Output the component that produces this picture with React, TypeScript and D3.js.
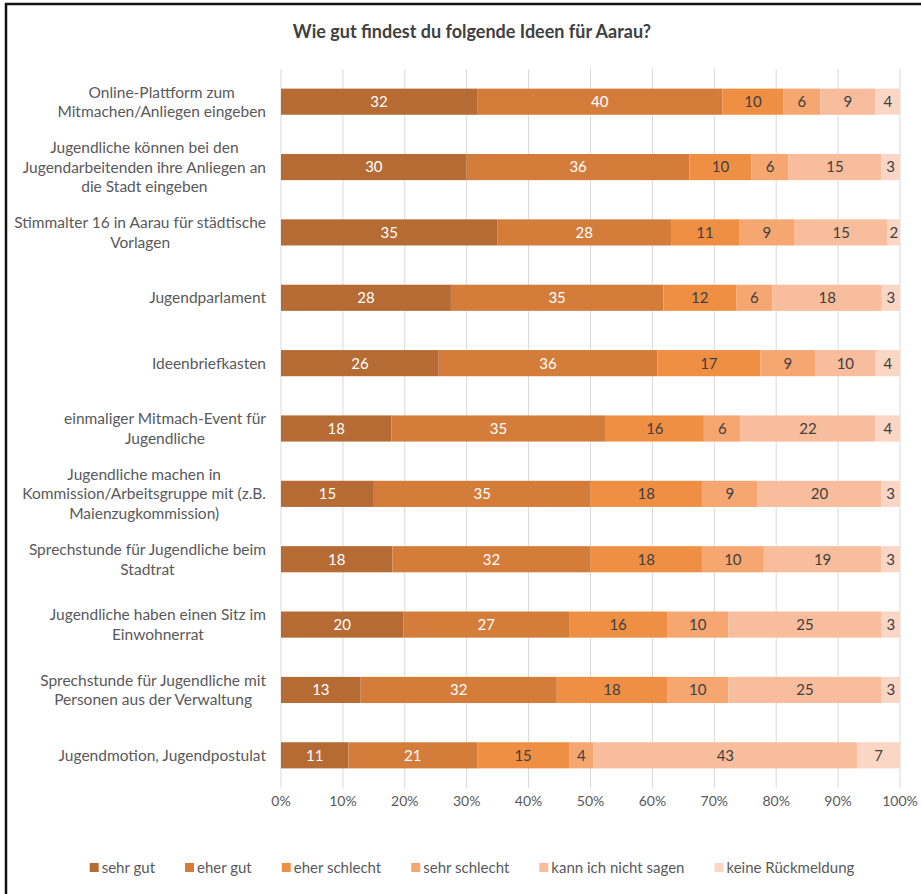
import React, { useRef, useEffect } from "react";
import * as d3 from "d3";

const categories: string[][] = [
  ["Online-Plattform zum", "Mitmachen/Anliegen eingeben"],
  ["Jugendliche können bei den", "Jugendarbeitenden ihre Anliegen an", "die Stadt eingeben"],
  ["Stimmalter 16 in Aarau für städtische", "Vorlagen"],
  ["Jugendparlament"],
  ["Ideenbriefkasten "],
  ["einmaliger Mitmach-Event für", "Jugendliche"],
  ["Jugendliche machen in", "Kommission/Arbeitsgruppe mit (z.B.", "Maienzugkommission)"],
  ["Sprechstunde für Jugendliche beim", "Stadtrat"],
  ["Jugendliche haben einen Sitz im", "Einwohnerrat"],
  ["Sprechstunde für Jugendliche mit", "Personen aus der Verwaltung"],
  ["Jugendmotion, Jugendpostulat"],
];

const seriesNames = [
  "sehr gut",
  "eher gut",
  "eher schlecht",
  "sehr schlecht",
  "kann ich nicht sagen",
  "keine Rückmeldung",
];

const sehrGut = [32, 30, 35, 28, 26, 18, 15, 18, 20, 13, 11];
const eherGut = [40, 36, 28, 35, 36, 35, 35, 32, 27, 32, 21];
const eherSchlecht = [10, 10, 11, 12, 17, 16, 18, 18, 16, 18, 15];
const sehrSchlecht = [6, 6, 9, 6, 9, 6, 9, 10, 10, 10, 4];
const kannNicht = [9, 15, 15, 18, 10, 22, 20, 19, 25, 25, 43];
const keineRueckmeldung = [4, 3, 2, 3, 4, 4, 3, 3, 3, 3, 7];

const tickValues = [0, 10, 20, 30, 40, 50, 60, 70, 80, 90, 100];

const colors = ["#b56b33", "#d47d3b", "#ee8f44", "#f5a671", "#f8bd9d", "#fbd6c5"];

const FONT = "Lato, 'Open Sans', sans-serif";

export default function App() {
  const svgRef = useRef<SVGSVGElement>(null);

  useEffect(() => {
    const w = 921;
    const h = 894;
    const svg = d3.select(svgRef.current);
    svg.selectAll("*").remove();
    svg
      .attr("width", w)
      .attr("height", h)
      .style("background", "#fff")
      .style("position", "absolute")
      .style("left", 0)
      .style("top", 0)
      .style("font-family", FONT);

    // frame
    svg.append("rect")
      .attr("x", 6)
      .attr("y", 4)
      .attr("width", 1000)
      .attr("height", 1000)
      .attr("fill", "none")
      .attr("stroke", "#111")
      .attr("stroke-width", 2.5);

    // title
    svg.append("text")
      .attr("x", 472)
      .attr("y", 38)
      .attr("text-anchor", "middle")
      .attr("font-size", 18)
      .attr("font-weight", "bold")
      .attr("fill", "#404040")
      .text("Wie gut findest du folgende Ideen für Aarau?");

    // data
    const series = [sehrGut, eherGut, eherSchlecht, sehrSchlecht, kannNicht, keineRueckmeldung];
    const rows = categories.map((c, i) => {
      const r: any = { idx: i };
      seriesNames.forEach((s, j) => (r[s] = series[j][i]));
      return r;
    });
    const stacked = d3.stack().keys(seriesNames).offset(d3.stackOffsetExpand)(rows);

    // scales
    const xScale = d3.scaleLinear().domain([0, 1]).range([281, 900]);
    const yScale = d3
      .scaleBand<number>()
      .domain(d3.range(categories.length))
      .range([69, 788])
      .paddingInner(0.6)
      .paddingOuter(0.3);

    // grid
    svg.append("g")
      .selectAll("line")
      .data(tickValues)
      .join("line")
      .attr("x1", (d) => xScale(d / 100))
      .attr("x2", (d) => xScale(d / 100))
      .attr("y1", 69)
      .attr("y2", 788)
      .attr("stroke", "#d9d9d9")
      .attr("stroke-width", 1);

    // bars
    const layers = svg.append("g")
      .selectAll("g")
      .data(stacked)
      .join("g")
      .attr("fill", (d, i) => colors[i]);

    layers.selectAll("rect")
      .data((d) => d)
      .join("rect")
      .attr("x", (d) => xScale(d[0]))
      .attr("width", (d) => xScale(d[1]) - xScale(d[0]))
      .attr("y", (d: any) => yScale(d.data.idx)!)
      .attr("height", yScale.bandwidth());

    // value labels
    layers.each(function (layer, li) {
      d3.select(this)
        .selectAll("text")
        .data(layer)
        .join("text")
        .attr("x", (d) => (xScale(d[0]) + xScale(d[1])) / 2)
        .attr("y", (d: any) => yScale(d.data.idx)! + yScale.bandwidth() / 2)
        .attr("dy", "0.36em")
        .attr("text-anchor", "middle")
        .attr("font-size", 15)
        .attr("fill", li < 2 ? "#ffffff" : "#404040")
        .text((d: any) => d.data[layer.key]);
    });

    // category labels
    const lineH = 19.5;
    categories.forEach((lines, i) => {
      const cy = yScale(i)! + yScale.bandwidth() / 2;
      const g = svg.append("g");
      const texts = g
        .selectAll("text")
        .data(lines)
        .join("text")
        .attr("y", (d, j) => cy + (j - (lines.length - 1) / 2) * lineH)
        .attr("dy", "0.36em")
        .attr("text-anchor", "middle")
        .attr("font-size", 15.5)
        .attr("fill", "#595959")
        .text((d) => d);
      let maxW = 0;
      texts.each(function () {
        maxW = Math.max(maxW, (this as SVGTextElement).getComputedTextLength());
      });
      texts.attr("x", 266 - maxW / 2);
    });

    // x axis labels
    svg.append("g")
      .selectAll("text")
      .data(tickValues)
      .join("text")
      .attr("x", (d) => xScale(d / 100))
      .attr("y", 806)
      .attr("text-anchor", "middle")
      .attr("font-size", 14)
      .attr("fill", "#595959")
      .text((d) => d + "%");

    // legend
    const legend = svg.append("g");
    const legendY = 868;
    const items = legend
      .selectAll("g")
      .data(seriesNames)
      .join("g");
    items.append("rect")
      .attr("width", 9)
      .attr("height", 9)
      .attr("y", legendY - 5)
      .attr("fill", (d, i) => colors[i]);
    items.append("text")
      .attr("x", 12)
      .attr("y", legendY)
      .attr("dy", "0.36em")
      .attr("font-size", 15)
      .attr("fill", "#595959")
      .text((d) => d);
    const gap = 30;
    let cx = 0;
    const offsets: number[] = [];
    items.each(function () {
      offsets.push(cx);
      const t = d3.select(this).select("text").node() as SVGTextElement;
      cx += 12 + t.getComputedTextLength() + gap;
    });
    const total = cx - gap;
    const start = 472 - total / 2;
    items.attr("transform", (d, i) => `translate(${start + offsets[i]},0)`);
  }, []);

  return <svg ref={svgRef} />;
}
